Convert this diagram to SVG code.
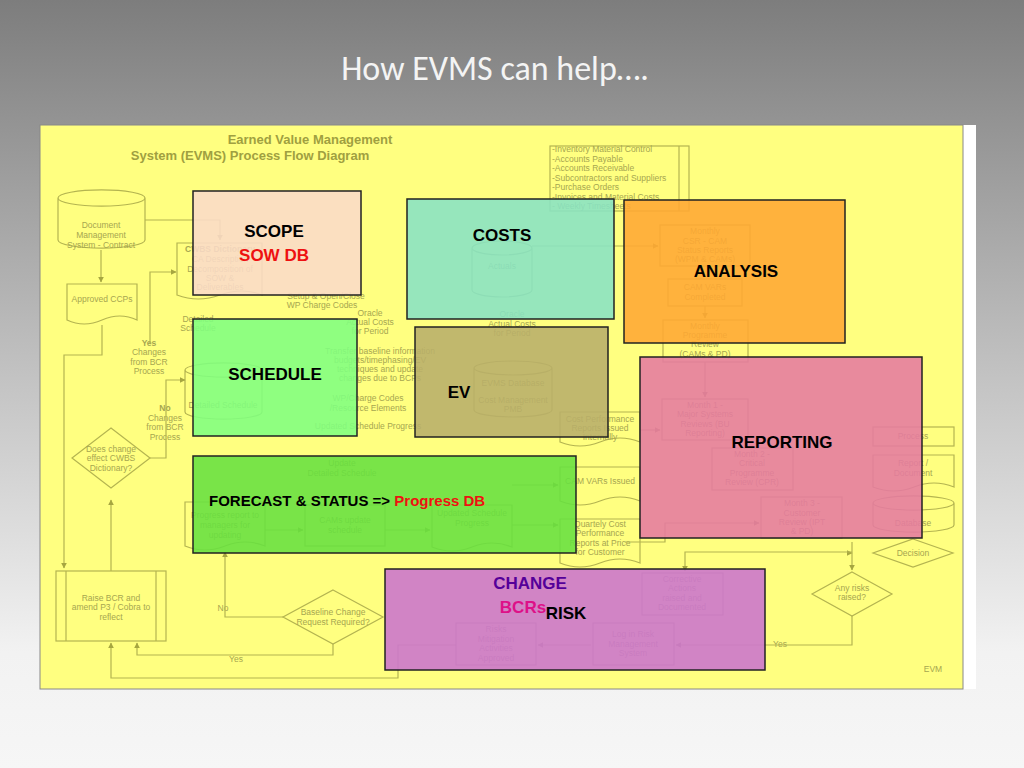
<svg xmlns="http://www.w3.org/2000/svg" width="1024" height="768" viewBox="0 0 1024 768">
<defs>
<linearGradient id="bg" x1="0" y1="0" x2="0" y2="1">
<stop offset="0" stop-color="#7d7d7d"/><stop offset="0.5" stop-color="#c4c4c4"/><stop offset="0.85" stop-color="#f2f2f2"/><stop offset="1" stop-color="#f6f6f6"/>
</linearGradient>
<marker id="ah" viewBox="0 0 10 10" refX="9" refY="5" markerWidth="5" markerHeight="5" orient="auto"><path d="M0,0 L10,5 L0,10 z" fill="#a6a640"/></marker>
</defs>
<style>
.f{fill:none;stroke:#b4b450;stroke-width:1.2}
.t{font-family:"Liberation Sans",Arial,sans-serif;font-size:8.5px;fill:#a6a650;text-anchor:middle}
.c{fill:none;stroke:#b4b450;stroke-width:1.2;marker-end:url(#ah)}
.o{stroke:#222;stroke-width:1.5}
.L{font-family:"Liberation Sans",Arial,sans-serif;font-weight:bold;font-size:17px;text-anchor:middle}
</style>
<rect width="1024" height="768" fill="url(#bg)"/>
<text x="495" y="80" font-family="Calibri,'Liberation Sans',sans-serif" font-size="34" fill="#f4f4f4" text-anchor="middle">How EVMS can help….</text>
<rect x="963" y="125" width="13" height="564" fill="#ffffff"/>
<rect x="40" y="125" width="923" height="564" fill="#ffff80" stroke="#888" stroke-width="1"/>

<g id="background">
<text x="310" y="144" font-family="Liberation Sans,Arial,sans-serif" font-weight="bold" font-size="13" fill="#a0a040" text-anchor="middle">Earned Value Management</text>
<text x="250" y="160" font-family="Liberation Sans,Arial,sans-serif" font-weight="bold" font-size="13" fill="#a0a040" text-anchor="middle">System (EVMS) Process Flow Diagram</text>
<path class="f" d="M58,198 v42 a43,8 0 0 0 87,0 v-42 a43,8 0 0 0 -87,0 a43,8 0 0 0 87,0"/>
<text class="t" x="101" y="228">Document</text><text class="t" x="101" y="238">Management</text><text class="t" x="101" y="248">System - Contract</text>
<path class="f" d="M67,284 h70 v36 q-17,-8 -35,0 t-35,0 z"/><text class="t" x="102" y="302">Approved CCPs</text>
<path class="f" d="M177,243 h85 v52 q-20,-8 -42,0 t-43,0 z"/>
<text class="t" x="220" y="252" font-weight="bold">CWBS Dictionary</text><text class="t" x="220" y="262">CA Description</text><text class="t" x="220" y="272">Decomposition of</text><text class="t" x="220" y="281">SOW &amp;</text><text class="t" x="220" y="290">Deliverables</text>
<text class="t" x="326" y="299">Setup &amp; Open/Close</text><text class="t" x="322" y="308">WP Charge Codes</text>
<text class="t" x="370" y="316">Oracle</text><text class="t" x="370" y="325">Actual Costs</text><text class="t" x="370" y="334">for Period</text>
<text class="t" x="198" y="322">Detailed</text><text class="t" x="198" y="331">Schedule</text>
<text class="t" x="149" y="346" font-weight="bold">Yes</text><text class="t" x="149" y="355">Changes</text><text class="t" x="149" y="365">from BCR</text><text class="t" x="149" y="374">Process</text>
<path class="f" d="M185,370 v42 a38,7 0 0 0 77,0 v-42 a38,7 0 0 0 -77,0 a38,7 0 0 0 77,0"/><text class="t" x="223" y="408">Detailed Schedule</text>
<text class="t" x="380" y="354">Transfer baseline information</text><text class="t" x="380" y="363">budgets/timephasing/EV</text><text class="t" x="380" y="372">techniques and update</text><text class="t" x="380" y="381">changes due to BCPs</text>
<text class="t" x="368" y="401">WP/Charge Codes</text><text class="t" x="368" y="411">/Resource Elements</text>
<text class="t" x="368" y="429">Updated Schedule Progress</text>
<text class="t" x="165" y="411" font-weight="bold">No</text><text class="t" x="165" y="421">Changes</text><text class="t" x="165" y="430">from BCR</text><text class="t" x="165" y="440">Process</text>
<path class="f" d="M111,428 l39,30 l-39,30 l-39,-30 z"/><text class="t" x="111" y="452">Does change</text><text class="t" x="111" y="461">effect CWBS</text><text class="t" x="111" y="471">Dictionary?</text>
<path class="f" d="M472,248 v42 a30,7 0 0 0 60,0 v-42 a30,7 0 0 0 -60,0 a30,7 0 0 0 60,0"/><text class="t" x="502" y="269">Actuals</text>
<text class="t" x="512" y="317">Oracle</text><text class="t" x="512" y="327">Actual Costs</text><text class="t" x="512" y="336">for Period</text>
<path class="f" d="M474,368 v42 a39,7 0 0 0 78,0 v-42 a39,7 0 0 0 -78,0 a39,7 0 0 0 78,0"/><text class="t" x="513" y="386">EVMS Database</text><text class="t" x="513" y="403">Cost Management</text><text class="t" x="513" y="412">PMB</text>
<rect class="f" x="550" y="146" width="139" height="65"/><line class="f" x1="679" y1="146" x2="679" y2="211"/>
<g class="t" style="text-anchor:start"><text x="552" y="152">-Inventory Material Control</text><text x="552" y="162">-Accounts Payable</text><text x="552" y="171">-Accounts Receivable</text><text x="552" y="181">-Subcontractors and Suppliers</text><text x="552" y="190">-Purchase Orders</text><text x="552" y="200">-Invoices and Material Costs</text><text x="552" y="209">- Weekly Timesheets</text></g>
<rect class="f" x="660" y="225" width="90" height="41"/><text class="t" x="705" y="234">Monthly</text><text class="t" x="705" y="244">CSR - CAM</text><text class="t" x="705" y="253">Status Reports</text><text class="t" x="705" y="262">(WPM &amp; CAMs)</text>
<rect class="f" x="668" y="279" width="74" height="27"/><text class="t" x="705" y="290">CAM VARs</text><text class="t" x="705" y="300">Completed</text>
<rect class="f" x="663" y="320" width="85" height="42"/><text class="t" x="705" y="329">Monthly</text><text class="t" x="705" y="338">Programme</text><text class="t" x="705" y="347">Review</text><text class="t" x="705" y="357">(CAMs &amp; PD)</text>
<rect class="f" x="662" y="399" width="86" height="41"/><text class="t" x="705" y="408">Month 1 -</text><text class="t" x="705" y="417">Major Systems</text><text class="t" x="705" y="427">Reviews (BU</text><text class="t" x="705" y="436">Reporting)</text>
<rect class="f" x="712" y="448" width="81" height="42"/><text class="t" x="752" y="457">Month 2 -</text><text class="t" x="752" y="466">Critical</text><text class="t" x="752" y="476">Programme</text><text class="t" x="752" y="485">Review (CPR)</text>
<rect class="f" x="761" y="497" width="81" height="41"/><text class="t" x="802" y="506">Month 3 -</text><text class="t" x="802" y="516">Customer</text><text class="t" x="802" y="525">Review (IPT</text><text class="t" x="802" y="534">&amp; PD)</text>
<path class="f" d="M560,412 h80 v30 q-20,-8 -40,0 t-40,0 z"/><text class="t" x="600" y="422">Cost Performance</text><text class="t" x="600" y="431">Reports Issued</text><text class="t" x="600" y="440">Internally</text>
<path class="f" d="M560,467 h80 v34 q-20,-8 -40,0 t-40,0 z"/><text class="t" x="600" y="484">CAM VARs Issued</text>
<path class="f" d="M560,519 h80 v44 q-20,-8 -40,0 t-40,0 z"/><text class="t" x="600" y="527">Quartely Cost</text><text class="t" x="600" y="536">Performance</text><text class="t" x="600" y="546">Reports at Price</text><text class="t" x="600" y="555">for Customer</text>
<rect class="f" x="873" y="427" width="81" height="19"/><text class="t" x="913" y="439">Process</text>
<path class="f" d="M873,455 h81 v32 q-20,-8 -40,0 t-41,0 z"/><text class="t" x="913" y="466">Report /</text><text class="t" x="913" y="476">Document</text>
<path class="f" d="M873,503 v22 a40,7 0 0 0 81,0 v-22 a40,7 0 0 0 -81,0 a40,7 0 0 0 81,0"/><text class="t" x="913" y="526">Database</text>
<path class="f" d="M913,539 l40,14 l-40,14 l-40,-14 z"/><text class="t" x="913" y="556">Decision</text>
<path class="f" d="M852,572 l40,22 l-40,22 l-40,-22 z"/><text class="t" x="852" y="591">Any risks</text><text class="t" x="852" y="600">raised?</text>
<rect class="f" x="642" y="573" width="81" height="42"/><text class="t" x="682" y="582">Corrective</text><text class="t" x="682" y="591">Actions</text><text class="t" x="682" y="601">raised and</text><text class="t" x="682" y="610">Documented</text>
<rect class="f" x="593" y="623" width="81" height="42"/><text class="t" x="633" y="637">Log in Risk</text><text class="t" x="633" y="647">Management</text><text class="t" x="633" y="656">System</text>
<rect class="f" x="456" y="623" width="80" height="42"/><text class="t" x="496" y="632">Risks</text><text class="t" x="496" y="642">Mitigation</text><text class="t" x="496" y="651">Activities</text><text class="t" x="496" y="661">Approved</text>
<path class="f" d="M333,590 l50,27 l-50,27 l-50,-27 z"/><text class="t" x="333" y="615">Baseline Change</text><text class="t" x="333" y="625">Request Required?</text>
<rect class="f" x="56" y="571" width="110" height="70"/><line class="f" x1="66" y1="571" x2="66" y2="641"/><line class="f" x1="156" y1="571" x2="156" y2="641"/>
<text class="t" x="111" y="601">Raise BCR  and</text><text class="t" x="111" y="610">amend P3 / Cobra to</text><text class="t" x="111" y="620">reflect</text>
<path class="f" d="M185,502 h80 v44 q-20,-8 -40,0 t-40,0 z"/><text class="t" x="225" y="518">Progress report to</text><text class="t" x="225" y="528">managers for</text><text class="t" x="225" y="538">updating</text>
<rect class="f" x="305" y="505" width="80" height="41"/><text class="t" x="345" y="523">CAMs update</text><text class="t" x="345" y="533">schedule</text>
<path class="f" d="M432,505 h80 v42 q-20,-8 -40,0 t-40,0 z"/><text class="t" x="472" y="516">Updated Schedule</text><text class="t" x="472" y="526">Progress</text>
<text class="t" x="342" y="466">Update</text><text class="t" x="342" y="476">Detailed Schedule</text>
<text class="t" x="236" y="662">Yes</text><text class="t" x="223" y="611">No</text><text class="t" x="780" y="647">Yes</text><text class="t" x="933" y="672">EVM</text>
</g>
<g id="connectors">
<path class="c" d="M101,250 V282"/>
<path class="c" d="M102,325 V355 H64 V568"/>
<path class="c" d="M111,571 V500"/>
<path class="c" d="M150,458 H166 V380 H185"/>
<path class="c" d="M149,343 H150 V272 H176"/>
<path class="c" d="M145,220 H220 V240"/>
<path class="c" d="M265,530 H303"/><path class="c" d="M385,530 H430"/>
<path class="c" d="M512,525 H558"/><path class="c" d="M512,485 H558"/>
<path class="c" d="M283,617 H225 V552"/>
<path class="c" d="M333,644 V655 H137 V643"/>
<path class="c" d="M852,616 V645 H676"/>
<path class="c" d="M591,645 H538"/>
<path class="c" d="M456,645 H398 V678 H111 V643"/>
<path class="c" d="M852,542 V570"/><path class="c" d="M852,553 V553"/>
<path class="c" d="M705,362 V397"/><path class="c" d="M705,306 V318"/>
<path class="c" d="M532,246 H658"/>
<path class="c" d="M625,542 H665 V523 H759"/>
<path class="c" d="M852,552 H685 V571"/>
<path class="c" d="M640,430 H660"/>
</g>

<g id="scope"><rect class="o" x="193" y="191" width="168" height="104" fill="#fadbc8" fill-opacity="0.88"/>
<text class="L" x="274" y="237" fill="#000">SCOPE</text><text class="L" x="274" y="261" fill="#ee1111">SOW DB</text></g>
<g id="costs"><rect class="o" x="407" y="199" width="207" height="120" fill="#88e2c4" fill-opacity="0.88"/><text class="L" x="502" y="241" fill="#000">COSTS</text></g>
<g id="analysis"><rect class="o" x="624" y="200" width="221" height="143" fill="#ffa733" fill-opacity="0.88"/><text class="L" x="736" y="277" fill="#000">ANALYSIS</text></g>
<g id="schedule"><rect class="o" x="193" y="319" width="164" height="117" fill="#7fff80" fill-opacity="0.88"/><text class="L" x="275" y="380" fill="#000">SCHEDULE</text></g>
<g id="ev"><rect class="o" x="415" y="327" width="193" height="110" fill="#b8ae6a" fill-opacity="0.88"/><text class="L" x="459" y="398" fill="#000">EV</text></g>
<g id="reporting"><rect class="o" x="640" y="357" width="282" height="181" fill="#e57aa0" fill-opacity="0.88"/><text class="L" x="782" y="448" fill="#000">REPORTING</text></g>
<g id="forecast"><rect class="o" x="193" y="456" width="383" height="97" fill="#66e040" fill-opacity="0.88"/>
<text font-family="Liberation Sans,Arial,sans-serif" font-weight="bold" font-size="15" x="209" y="506" fill="#000">FORECAST &amp; STATUS =&gt; <tspan fill="#ee1111">Progress DB</tspan></text></g>
<g id="change"><rect class="o" x="385" y="569" width="380" height="101" fill="#cc77cc" fill-opacity="0.9"/>
<text class="L" x="530" y="589" fill="#550099">CHANGE</text><text class="L" x="523" y="613" fill="#dd1188">BCRs</text><text class="L" x="566" y="619" fill="#000">RISK</text></g>
</svg>
